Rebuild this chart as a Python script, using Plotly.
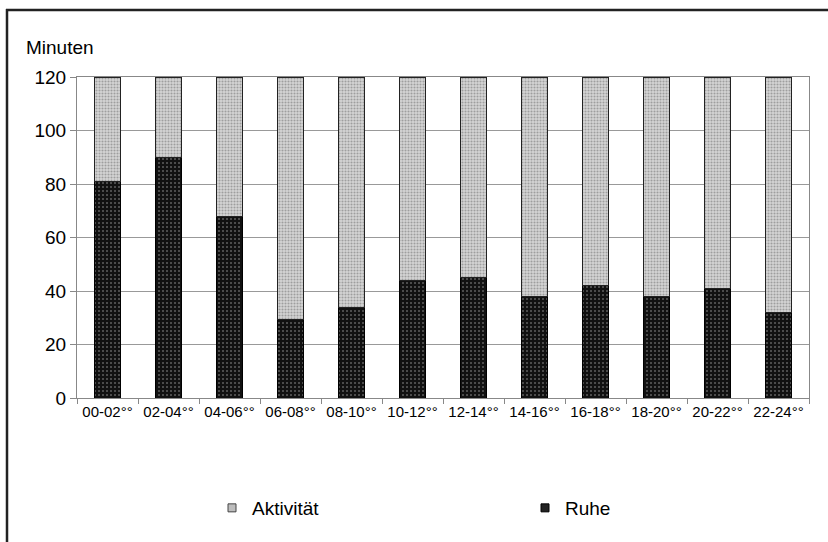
import plotly.graph_objects as go

categories = ["00-02°°", "02-04°°", "04-06°°", "06-08°°", "08-10°°", "10-12°°",
              "12-14°°", "14-16°°", "16-18°°", "18-20°°", "20-22°°", "22-24°°"]
ruhe = [81, 90, 68, 29.5, 34, 44, 45, 38, 42, 38, 41, 32]
aktivitaet = [120 - v for v in ruhe]
y_ticks = [0, 20, 40, 60, 80, 100, 120]

FONT = "Arial, Liberation Sans, sans-serif"

fig = go.Figure()
fig.add_trace(go.Bar(
    x=categories, y=ruhe, name="Ruhe", showlegend=False,
    marker=dict(color="black", line=dict(color="black", width=1),
                pattern=dict(shape=".", bgcolor="#111111", fgcolor="#aaaaaa",
                             size=4, solidity=0.2, fillmode="overlay")),
))
fig.add_trace(go.Bar(
    x=categories, y=aktivitaet, name="Aktivität", showlegend=False,
    marker=dict(color="#cccccc", line=dict(color="#222222", width=1),
                pattern=dict(shape=".", bgcolor="#d6d6d6", fgcolor="#666666",
                             size=3, solidity=0.4, fillmode="overlay")),
))
# legend entries with small square symbols
fig.add_trace(go.Scatter(
    x=[None], y=[None], mode="markers", name="Ruhe",
    marker=dict(symbol="square", size=8, color="#222222",
                line=dict(color="black", width=1)),
))
fig.add_trace(go.Scatter(
    x=[None], y=[None], mode="markers", name="Aktivität",
    marker=dict(symbol="square", size=8, color="#bdbdbd",
                line=dict(color="#444444", width=1)),
))

L, R, T, B = 77, 19, 77, 144
W, H = 828, 542
pw, ph = W - L - R, H - T - B

def px(x):
    return (x - L) / pw

def py(y):
    return (H - B - y) / ph

fig.update_layout(
    width=W, height=H,
    margin=dict(l=L, r=R, t=T, b=B, autoexpand=False),
    barmode="stack", bargap=0.57,
    plot_bgcolor="white", paper_bgcolor="white",
    font=dict(family=FONT, color="black"),
    showlegend=True,
    legend=dict(orientation="h", traceorder="reversed",
                x=px(212), xanchor="left", y=py(508), yanchor="middle",
                entrywidth=268, entrywidthmode="pixels",
                font=dict(size=19, family=FONT), itemwidth=30),
    xaxis=dict(tickfont=dict(size=15, family=FONT), ticks="outside",
               tickson="boundaries", ticklen=5, tickcolor="#888888",
               showline=True, linecolor="#888888", linewidth=1, mirror=True,
               showgrid=False),
    yaxis=dict(range=[0, 120], tickvals=y_ticks, tickfont=dict(size=19, family=FONT),
               ticks="outside", ticklen=6, tickcolor="#888888",
               showline=True, linecolor="#888888", linewidth=1, mirror=True,
               showgrid=True, gridcolor="#999999", gridwidth=1.3, zeroline=False),
    annotations=[dict(text="Minuten", xref="paper", yref="paper",
                      x=px(24), y=py(47), xanchor="left", yanchor="middle",
                      showarrow=False, font=dict(size=19, family=FONT))],
    shapes=[
        dict(type="line", xref="paper", yref="paper", x0=px(6), x1=px(830),
             y0=py(10), y1=py(10), line=dict(color="#222222", width=2.5)),
        dict(type="line", xref="paper", yref="paper", x0=px(7), x1=px(7),
             y0=py(9), y1=py(545), line=dict(color="#222222", width=2.5)),
    ],
)

fig.write_html("out.html", config={"displayModeBar": False},
               post_script="document.body.style.margin='0';document.body.style.overflow='hidden';")
